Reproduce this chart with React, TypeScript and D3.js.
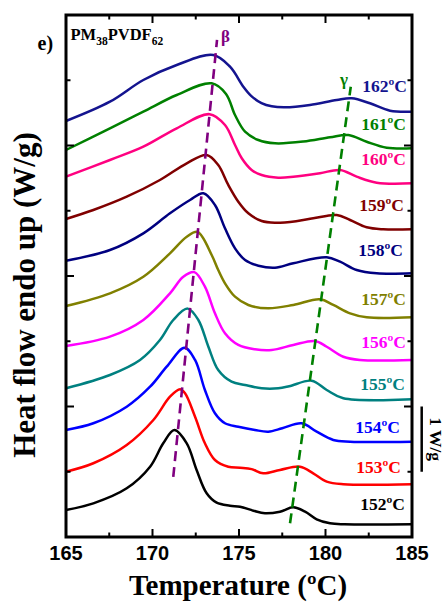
import React from 'react';
import * as d3 from 'd3';

// Isothermal crystallization temperatures (ºC), bottom to top
const isoTemps = ['152', '153', '154', '155', '156', '157', '158', '159', '160', '161', '162'];

// DSC heating traces: [temperature ºC, stacked heat flow W/g]
const curve152: [number, number][] = [
  [165.0, 0.414], [166.58, 0.516], [168.51, 0.746], [169.86, 1.077], [170.62, 1.436], [171.26, 1.64],
  [171.98, 1.436], [172.55, 1.027], [173.13, 0.67], [173.71, 0.526], [174.48, 0.48], [175.06, 0.464],
  [175.83, 0.403], [176.5, 0.363], [177.37, 0.388], [178.14, 0.455], [178.82, 0.388], [179.49, 0.271],
  [180.26, 0.21], [181.1, 0.195], [185.0, 0.195],
];
const curve153: [number, number][] = [
  [165.0, 1.001], [166.58, 1.13], [168.51, 1.41], [170.05, 1.793], [171.01, 2.15], [171.59, 2.264],
  [171.88, 2.202], [172.46, 1.844], [173.03, 1.436], [173.61, 1.18], [174.38, 1.077], [175.06, 1.062],
  [175.73, 1.04], [176.4, 0.976], [177.37, 1.027], [178.53, 1.077], [179.29, 0.976], [180.07, 0.848],
  [181.03, 0.808], [185.0, 0.808],
];
const curve154: [number, number][] = [
  [165.0, 1.64], [166.58, 1.743], [168.51, 1.997], [169.86, 2.303], [170.82, 2.61], [171.85, 2.9],
  [172.46, 2.713], [173.03, 2.253], [173.61, 1.896], [174.19, 1.743], [174.96, 1.69], [175.92, 1.64],
  [176.69, 1.614], [177.5, 1.666], [178.62, 1.743], [179.49, 1.614], [180.45, 1.487], [181.42, 1.461],
  [185.0, 1.461],
];
const curve155: [number, number][] = [
  [165.0, 2.279], [167.54, 2.483], [169.28, 2.713], [170.43, 3.019], [171.2, 3.326], [172.03, 3.5],
  [172.65, 3.326], [173.23, 2.916], [173.8, 2.559], [174.57, 2.38], [175.35, 2.329], [176.31, 2.279],
  [177.27, 2.279], [177.9, 2.31], [179.2, 2.395], [180.07, 2.253], [181.03, 2.126], [185.0, 2.11],
];
const curve156: [number, number][] = [
  [165.0, 2.927], [167.54, 3.07], [169.47, 3.326], [171.01, 3.735], [171.78, 3.989], [172.42, 4.06],
  [173.03, 3.836], [173.61, 3.428], [174.19, 3.122], [174.96, 2.943], [175.92, 2.877], [176.89, 2.866],
  [178.14, 2.943], [179.39, 3.004], [180.07, 2.916], [181.03, 2.763], [181.99, 2.713], [185.0, 2.713],
];
const curve157: [number, number][] = [
  [165.0, 3.54], [167.54, 3.735], [169.47, 3.989], [171.01, 4.348], [171.98, 4.602], [172.61, 4.675],
  [173.42, 4.322], [173.8, 4.092], [174.19, 3.888], [174.77, 3.683], [175.54, 3.556], [176.69, 3.505],
  [178.14, 3.556], [179.68, 3.643], [180.45, 3.556], [181.42, 3.428], [182.38, 3.367], [185.0, 3.367],
];
const curve158: [number, number][] = [
  [165.0, 4.234], [167.54, 4.398], [169.47, 4.654], [171.01, 4.961], [172.17, 5.165], [172.94, 5.267],
  [173.61, 5.088], [174.19, 4.731], [174.77, 4.424], [175.35, 4.245], [176.12, 4.158], [177.08, 4.127],
  [178.14, 4.195], [180.07, 4.287], [180.84, 4.219], [181.8, 4.092], [182.96, 4.041], [185.0, 4.041],
];
const curve159: [number, number][] = [
  [165.0, 4.874], [166.58, 5.011], [168.51, 5.215], [170.43, 5.471], [171.98, 5.727], [173.13, 5.854],
  [173.8, 5.701], [174.38, 5.395], [174.96, 5.139], [175.54, 4.961], [176.31, 4.843], [177.08, 4.817],
  [178.3, 4.84], [179.29, 4.884], [180.65, 4.935], [181.42, 4.858], [182.38, 4.746], [183.34, 4.716],
  [185.0, 4.716],
];
const curve160: [number, number][] = [
  [165.0, 5.522], [167.54, 5.778], [169.47, 5.982], [171.4, 6.264], [173.3, 6.48], [174.19, 6.314],
  [174.77, 6.008], [175.16, 5.804], [175.73, 5.625], [176.31, 5.548], [177.27, 5.507], [178.14, 5.52],
  [179.68, 5.574], [180.84, 5.625], [181.8, 5.522], [182.96, 5.43], [185.0, 5.421],
];
const curve161: [number, number][] = [
  [165.0, 5.931], [167.54, 6.264], [169.47, 6.518], [171.4, 6.774], [173.42, 6.953], [174.25, 6.79],
  [174.77, 6.467], [175.35, 6.212], [176.12, 6.084], [177.08, 6.034], [178.72, 6.06], [180.26, 6.126],
  [181.32, 6.161], [182.38, 6.058], [183.54, 5.966], [185.0, 5.957],
];
const curve162: [number, number][] = [
  [165.0, 6.375], [167.54, 6.671], [169.47, 7.004], [171.4, 7.234], [173.51, 7.387], [174.48, 7.208],
  [175.25, 6.901], [175.7, 6.76], [176.3, 6.65], [176.89, 6.6], [177.66, 6.585], [179.1, 6.621],
  [180.65, 6.697], [181.51, 6.723], [182.57, 6.647], [183.73, 6.533], [185.0, 6.518],
];

const curves = [curve152, curve153, curve154, curve155, curve156, curve157, curve158, curve159, curve160, curve161, curve162];

// Melting peak trend lines
const betaTrend: [number, number][] = [[171.2, 0.92], [173.73, 7.62]];
const gammaTrend: [number, number][] = [[177.95, 0.21], [181.46, 6.9]];

const xTickValues = [165, 170, 175, 180, 185];
const xMinorValues = [167.5, 172.5, 177.5, 182.5];
const yTickValues = [0, 1, 2, 3, 4, 5, 6, 7, 8];
const scaleBar: [number, number] = [1, 2];

// Styles / layout
const COLORS = ['#000000', '#ff0000', '#0000ff', '#008080', '#ff00ff', '#808000', '#000080', '#800000', '#ff0080', '#008000', '#14148f'];
const LABEL_DY = [14, 11, 8.7, 9, 12, 12, 17, 18.6, 18, 18, 20];
const LABEL_X = [405, 401, 400, 405, 406, 406, 403, 404, 406, 406, 407];

const SERIF = '"Liberation Serif", "Times New Roman", serif';
const SANS = '"Liberation Sans", Arial, sans-serif';

export default function App() {
  const x = d3.scaleLinear().domain([165, 185]).range([66, 412]);
  const y = d3.scaleLinear().domain([0, 8]).range([537, 15]);
  const line = d3
    .line<[number, number]>()
    .x((d) => x(d[0]))
    .y((d) => y(d[1]))
    .curve(d3.curveCatmullRom.alpha(0.5));
  const straight = d3.line<[number, number]>().x((d) => x(d[0])).y((d) => y(d[1]));

  const [x0, x1] = x.range();
  const [yb, yt] = y.range();

  return (
    <svg width={447} height={608} style={{ position: 'absolute', left: 0, top: 0, background: '#fff' }}>
      {/* curves */}
      {curves.map((c, i) => (
        <path key={i} d={line(c) || ''} fill="none" stroke={COLORS[i]} strokeWidth={2.5} strokeLinejoin="round" />
      ))}
      {/* trend lines */}
      <path d={straight(betaTrend) || ''} stroke="#800080" strokeWidth={2.6} strokeDasharray="10,6" fill="none" />
      <path d={straight(gammaTrend) || ''} stroke="#008000" strokeWidth={2.6} strokeDasharray="10,6" fill="none" />
      <text x={x(173.85) + 2} y={42} fontFamily={SERIF} fontWeight="bold" fontSize={17} fill="#800080">β</text>
      <text x={x(181.3) - 8} y={85} fontFamily={SERIF} fontWeight="bold" fontSize={17} fill="#008000">γ</text>

      {/* labels */}
      {curves.map((c, i) => (
        <text
          key={'l' + i}
          x={LABEL_X[i]}
          y={y(c[c.length - 1][1]) - LABEL_DY[i]}
          textAnchor="end"
          fontFamily={SERIF}
          fontWeight="bold"
          fontSize={17.5}
          fill={COLORS[i]}
        >
          {isoTemps[i]}ºC
        </text>
      ))}

      {/* x ticks */}
      {xTickValues.map((t) => (
        <g key={'xt' + t}>
          <line x1={x(t)} x2={x(t)} y1={yb} y2={yb - 8} stroke="#000" strokeWidth={2} />
          <line x1={x(t)} x2={x(t)} y1={yt} y2={yt + 8} stroke="#000" strokeWidth={2} />
          <text x={x(t)} y={560} textAnchor="middle" fontFamily={SANS} fontWeight="bold" fontSize={20}>
            {t}
          </text>
        </g>
      ))}
      {xMinorValues.map((t) => (
        <g key={'xm' + t}>
          <line x1={x(t)} x2={x(t)} y1={yb} y2={yb - 4.5} stroke="#000" strokeWidth={2} />
          <line x1={x(t)} x2={x(t)} y1={yt} y2={yt + 4.5} stroke="#000" strokeWidth={2} />
        </g>
      ))}
      {/* y ticks */}
      {yTickValues.map((v) => {
        const len = v % 2 === 0 ? 8 : 4.5;
        return (
          <g key={'yt' + v}>
            <line x1={x0} x2={x0 + len} y1={y(v)} y2={y(v)} stroke="#000" strokeWidth={2} />
            <line x1={x1} x2={x1 - len} y1={y(v)} y2={y(v)} stroke="#000" strokeWidth={2} />
          </g>
        );
      })}

      {/* frame */}
      <rect x={x0} y={yt} width={x1 - x0} height={yb - yt} fill="none" stroke="#000" strokeWidth={3} />

      {/* axis titles */}
      <text x={238} y={595} textAnchor="middle" fontFamily={SERIF} fontWeight="bold" fontSize={29}>
        Temperature (ºC)
      </text>
      <text
        transform={`translate(34.5,295) rotate(-90)`}
        textAnchor="middle"
        fontFamily={SERIF}
        fontWeight="bold"
        fontSize={31}
      >
        Heat flow endo up (W/g)
      </text>

      {/* panel letter and sample name */}
      <text x={37.5} y={50} fontFamily={SERIF} fontWeight="bold" fontSize={20}>e)</text>
      <text x={70.5} y={39.5} fontFamily={SERIF} fontWeight="bold" fontSize={16.5}>
        PM<tspan fontSize={11.5} dy={5}>38</tspan>
        <tspan dy={-5}>PVDF</tspan>
        <tspan fontSize={11.5} dy={5}>62</tspan>
      </text>

      {/* scale bar */}
      <line x1={421.7} x2={421.7} y1={y(scaleBar[0])} y2={y(scaleBar[1])} stroke="#000" strokeWidth={2.5} />
      <text
        transform={`translate(430,${(y(scaleBar[0]) + y(scaleBar[1])) / 2}) rotate(90)`}
        textAnchor="middle"
        fontFamily={SERIF}
        fontWeight="bold"
        fontSize={17.5}
      >
        1 W/g
      </text>
    </svg>
  );
}
